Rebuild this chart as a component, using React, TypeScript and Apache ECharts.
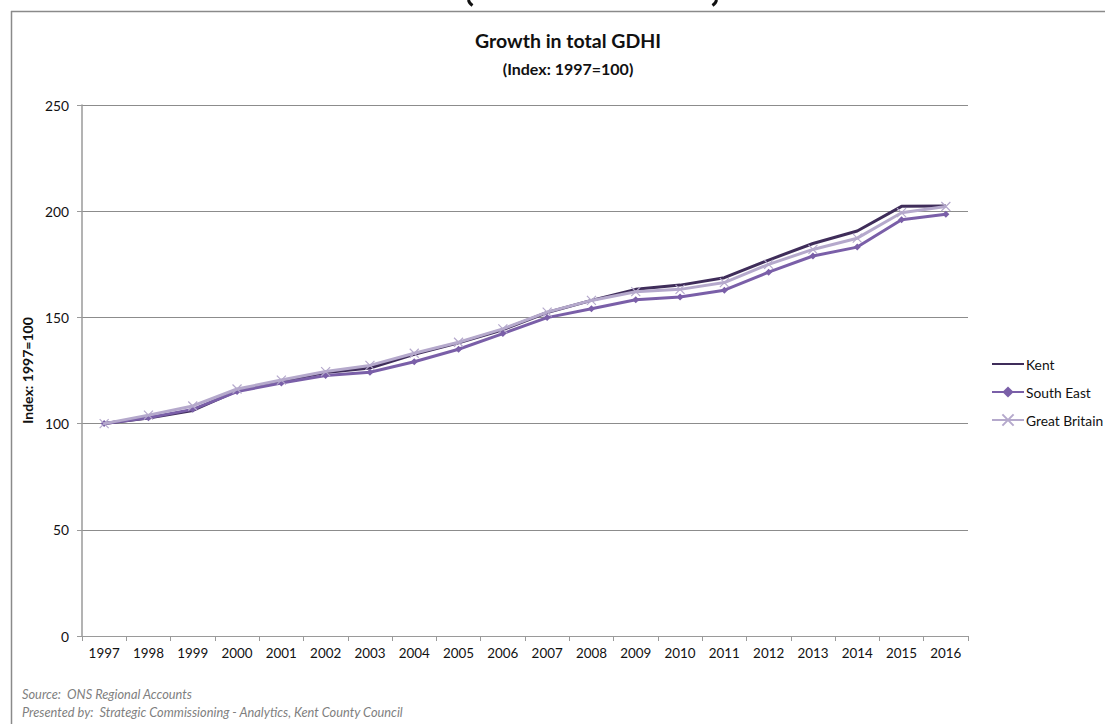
import React, { useEffect, useRef } from "react";
import * as echarts from "echarts";

const years = ["1997","1998","1999","2000","2001","2002","2003","2004","2005","2006","2007","2008","2009","2010","2011","2012","2013","2014","2015","2016"];
const kent = [100, 102.6, 106.2, 115.4, 120, 124, 126.2, 132.6, 138, 144.2, 152.3, 158, 163.2, 165.2, 168.7, 177, 184.8, 190.7, 202.3, 202.5];
const southEast = [100, 102.8, 106.7, 115.1, 119.1, 122.6, 124.2, 129.1, 135, 142.4, 149.9, 154.1, 158.3, 159.6, 162.8, 171.3, 178.9, 183.1, 196, 198.6];
const greatBritain = [100, 104, 108.3, 116.3, 120.5, 124.5, 127.4, 133.1, 138.3, 144.6, 152.5, 158, 162.1, 163.2, 166.4, 175, 182, 187.3, 199.3, 202.2];
const yTicks = { min: 0, max: 250, interval: 50 };

const FONT = "Lato, 'Noto Sans', sans-serif";

export default function App() {
  const ref = useRef<HTMLDivElement>(null);
  useEffect(() => {
    if (!ref.current) return;
    const chart = echarts.init(ref.current, undefined, { renderer: "svg" });
    chart.setOption({
      animation: false,
      backgroundColor: "#ffffff",
      textStyle: { fontFamily: FONT },
      title: [
        {
          text: "Growth in total GDHI",
          left: 563,
          textAlign: "center",
          top: 25,
          textStyle: { fontSize: 19.5, fontWeight: "bold", color: "#111", fontFamily: FONT },
        },
        {
          text: "(Index: 1997=100)",
          left: 563,
          textAlign: "center",
          top: 55,
          textStyle: { fontSize: 16, fontWeight: "bold", color: "#111", fontFamily: FONT },
        },
      ],
      graphic: [
        { type: "line", shape: { x1: 11, y1: 11.5, x2: 1105, y2: 11.5 }, style: { stroke: "#8a8a8a", lineWidth: 1.5 } },
        { type: "line", shape: { x1: 11.5, y1: 11, x2: 11.5, y2: 724 }, style: { stroke: "#8a8a8a", lineWidth: 1.5 } },
        { type: "bezierCurve", shape: { x1: 468.5, y1: 0, cpx1: 469, cpy1: 3, x2: 472.5, y2: 5.5 }, style: { stroke: "#111", lineWidth: 3, fill: "none" } },
        { type: "bezierCurve", shape: { x1: 716.5, y1: 0, cpx1: 716, cpy1: 3, x2: 712.5, y2: 5.5 }, style: { stroke: "#111", lineWidth: 3, fill: "none" } },
        { type: "text", x: 22, y: 694, style: { text: "Source:  ONS Regional Accounts", fontSize: 12.8, fontStyle: "italic", fill: "#7f7f7f", fontFamily: FONT, textVerticalAlign: "middle" } },
        { type: "text", x: 22, y: 712, style: { text: "Presented by:  Strategic Commissioning - Analytics, Kent County Council", fontSize: 12.8, fontStyle: "italic", fill: "#7f7f7f", fontFamily: FONT, textVerticalAlign: "middle" } },
      ],
      legend: {
        orient: "vertical",
        left: 991,
        top: 357,
        padding: 0,
        itemGap: 14,
        itemWidth: 32,
        itemHeight: 14,
        textStyle: { fontSize: 13.8, color: "#111", fontFamily: FONT, padding: [0, 0, 0, -3] },
        data: [
          { name: "Kent", itemStyle: { opacity: 0 } },
          { name: "South East" },
          { name: "Great Britain" },
        ],
      },
      grid: { left: 82, right: 137, top: 105, bottom: 88, containLabel: false },
      xAxis: {
        type: "category",
        data: years,
        boundaryGap: true,
        axisLine: { lineStyle: { color: "#9a9a9a", width: 1 } },
        axisTick: { show: true, length: 5, lineStyle: { color: "#9a9a9a" }, alignWithLabel: false },
        axisLabel: { fontSize: 13.4, color: "#111", margin: 10, fontFamily: FONT },
      },
      yAxis: {
        type: "value",
        min: yTicks.min,
        max: yTicks.max,
        interval: yTicks.interval,
        name: "Index: 1997=100",
        nameLocation: "middle",
        nameGap: 42,
        nameTextStyle: { fontSize: 14, fontWeight: "bold", color: "#111", fontFamily: FONT },
        axisLine: { show: true, lineStyle: { color: "#9a9a9a", width: 1.5 } },
        axisTick: { show: true, length: 5, lineStyle: { color: "#9a9a9a" } },
        axisLabel: { fontSize: 13.8, color: "#111", margin: 13, fontFamily: FONT },
        splitLine: { show: true, lineStyle: { color: "#8c8c8c", width: 1 } },
      },
      series: [
        {
          name: "Kent",
          type: "line",
          data: kent,
          symbol: "none",
          lineStyle: { color: "#3f2d5a", width: 3 },
          itemStyle: { color: "#3f2d5a" },
          z: 2,
        },
        {
          name: "South East",
          type: "line",
          data: southEast,
          symbol: "diamond",
          symbolSize: 7,
          lineStyle: { color: "#7a5fa8", width: 3 },
          itemStyle: { color: "#7a5fa8" },
          z: 3,
        },
        {
          name: "Great Britain",
          type: "line",
          data: greatBritain,
          symbol: "path://M0,0L10,10M10,0L0,10",
          symbolSize: 9,
          lineStyle: { color: "#b5a9cc", width: 3 },
          itemStyle: { color: "#b5a9cc", borderColor: "#b5a9cc", borderWidth: 1.2 },
          z: 4,
        },
      ],
    });
    return () => chart.dispose();
  }, []);
  return (
    <div
      ref={ref}
      style={{ position: "fixed", left: 0, top: 0, width: 1105, height: 724 }}
    />
  );
}
